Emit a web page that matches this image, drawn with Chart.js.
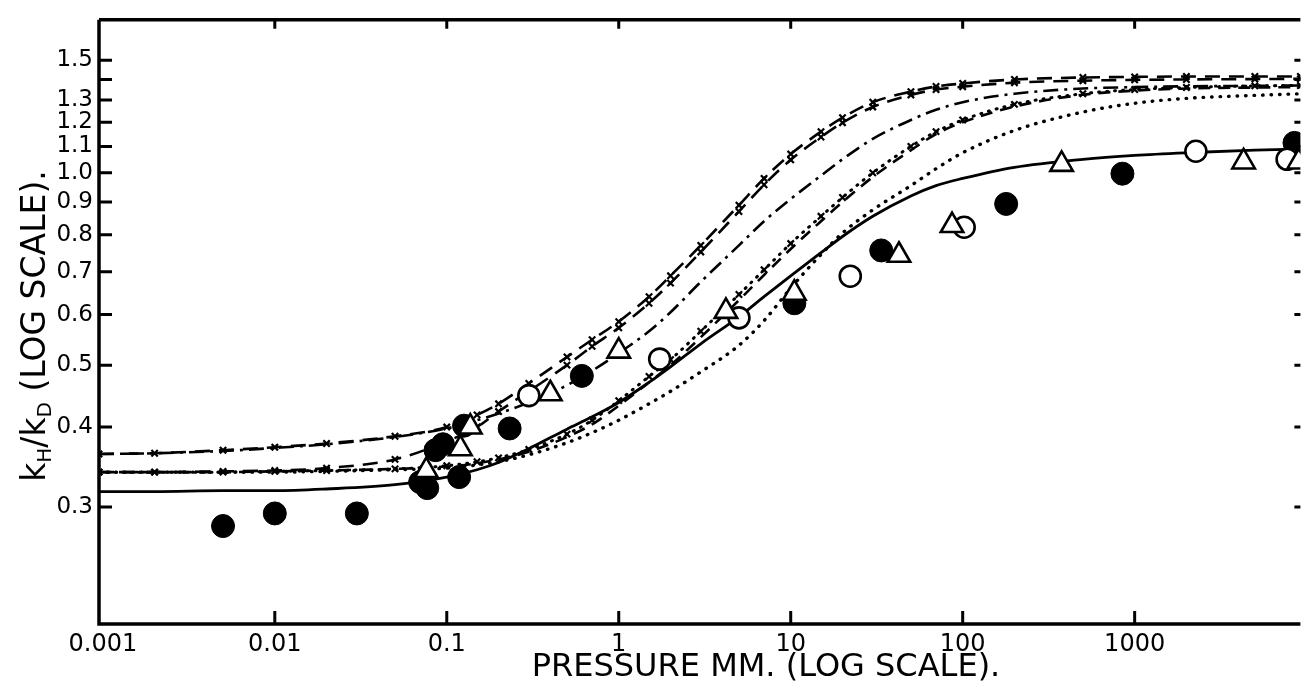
<!DOCTYPE html>
<html><head><meta charset="utf-8">
<script src="https://cdn.jsdelivr.net/npm/chart.js@4.4.1/dist/chart.umd.min.js"></script>
<style>html,body{margin:0;padding:0;background:#fff;}#wrap{width:1316px;height:686px;}</style>
</head><body><div id="wrap"><canvas id="c" width="1316" height="686"></canvas></div>
<script>
// ---- data ----
const XS = [0.00095, 0.002, 0.005, 0.01, 0.02, 0.05, 0.1, 0.15, 0.2, 0.3, 0.5, 0.7, 1, 1.5, 2, 3, 5, 7, 10, 15, 20, 30, 50, 70, 100, 200, 500, 1000, 2000, 5000, 9200];
const CURVE_U1 = [0.363, 0.364, 0.368, 0.372, 0.377, 0.387, 0.400, 0.418, 0.435, 0.468, 0.515, 0.548, 0.585, 0.640, 0.690, 0.770, 0.890, 0.980, 1.070, 1.160, 1.220, 1.290, 1.340, 1.365, 1.380, 1.400, 1.410, 1.413, 1.415, 1.415, 1.415];
const CURVE_U2 = [0.340, 0.340, 0.341, 0.342, 0.345, 0.356, 0.380, 0.400, 0.423, 0.455, 0.500, 0.535, 0.572, 0.625, 0.672, 0.752, 0.870, 0.958, 1.048, 1.138, 1.198, 1.268, 1.324, 1.350, 1.364, 1.384, 1.394, 1.398, 1.400, 1.402, 1.403];
const CURVE_M = [0.363, 0.364, 0.367, 0.371, 0.376, 0.386, 0.398, 0.410, 0.420, 0.437, 0.465, 0.490, 0.522, 0.565, 0.605, 0.675, 0.770, 0.840, 0.910, 0.990, 1.050, 1.130, 1.210, 1.255, 1.290, 1.330, 1.355, 1.362, 1.366, 1.368, 1.370];
const CURVE_LX = [0.340, 0.340, 0.340, 0.341, 0.342, 0.344, 0.348, 0.353, 0.358, 0.369, 0.390, 0.410, 0.440, 0.480, 0.510, 0.565, 0.645, 0.705, 0.775, 0.855, 0.915, 1.000, 1.100, 1.160, 1.210, 1.280, 1.330, 1.350, 1.360, 1.368, 1.370];
const CURVE_LD = [0.340, 0.340, 0.340, 0.341, 0.342, 0.344, 0.347, 0.351, 0.356, 0.366, 0.386, 0.404, 0.432, 0.470, 0.500, 0.553, 0.632, 0.692, 0.760, 0.840, 0.900, 0.985, 1.085, 1.150, 1.200, 1.270, 1.325, 1.345, 1.355, 1.360, 1.362];
const CURVE_DOT = [0.340, 0.340, 0.340, 0.340, 0.341, 0.343, 0.345, 0.349, 0.353, 0.362, 0.378, 0.392, 0.410, 0.435, 0.455, 0.488, 0.537, 0.587, 0.660, 0.745, 0.805, 0.875, 0.955, 1.015, 1.075, 1.165, 1.245, 1.285, 1.308, 1.322, 1.330];
const CURVE_SOLID = [0.317, 0.317, 0.318, 0.318, 0.320, 0.325, 0.334, 0.343, 0.352, 0.370, 0.397, 0.415, 0.437, 0.470, 0.497, 0.540, 0.595, 0.640, 0.690, 0.750, 0.795, 0.855, 0.920, 0.955, 0.980, 1.020, 1.050, 1.065, 1.075, 1.085, 1.090];

const FILLED_X = [0.005, 0.01, 0.03, 0.070, 0.077, 0.086, 0.095, 0.118, 0.126, 0.232, 0.61, 10.5, 33.6, 179, 849, 8500];
const FILLED_Y = [0.280, 0.293, 0.293, 0.328, 0.321, 0.368, 0.376, 0.334, 0.402, 0.398, 0.481, 0.625, 0.756, 0.894, 0.997, 1.114];
const OPEN_X = [0.30, 1.73, 5.0, 22.2, 102, 2270, 7700];
const OPEN_Y = [0.448, 0.511, 0.593, 0.689, 0.822, 1.081, 1.050];
const TRI_X = [0.076, 0.12, 0.137, 0.40, 1.0, 4.2, 10.5, 42.6, 86.7, 376, 4300, 9000];
const TRI_Y = [0.342, 0.370, 0.400, 0.451, 0.526, 0.607, 0.648, 0.743, 0.827, 1.031, 1.040, 1.040];

const X_TICKS = [0.001, 0.01, 0.1, 1, 10, 100, 1000];
const X_LABELS = ['0.001', '0.01', '0.1', '1', '10', '100', '1000'];
const Y_TICKS = [0.3, 0.4, 0.5, 0.6, 0.7, 0.8, 0.9, 1.0, 1.1, 1.2, 1.3, 1.4, 1.5];
const Y_LABELS = ['0.3', '0.4', '0.5', '0.6', '0.7', '0.8', '0.9', '1.0', '1.1', '1.2', '1.3', '', '1.5'];
const X_TITLE = 'PRESSURE MM. (LOG SCALE).';
const Y_TITLE_PARTS = [['k', 0], ['H', 1], ['/', 0], ['k', 0], ['D', 1], [' (LOG SCALE).', 0]];

// ---- build ----
const pts = (xs, ys) => xs.map((x, i) => ({x: x, y: ys[i]}));
const FONT = '"DejaVu Sans", sans-serif';

function curve(label, ys, dash, cross, width) {
  return {
    label: label, data: pts(XS, ys), showLine: true, order: 5,
    borderColor: '#000', borderWidth: width || 2.6, borderDash: dash,
    borderCapStyle: dash.length && dash[0] < 3 ? 'round' : 'butt',
    cubicInterpolationMode: 'monotone', fill: false,
    pointStyle: 'crossRot', pointRadius: cross ? 4.5 : 0, pointBorderWidth: 2.2,
    pointBorderColor: '#000', pointBackgroundColor: '#000', pointHoverRadius: 0
  };
}

const datasets = [
  {label: 'open', data: pts(OPEN_X, OPEN_Y), order: 1, pointStyle: 'circle', pointRadius: 10.5,
   pointBorderWidth: 2.6, pointBorderColor: '#000', pointBackgroundColor: '#fff'},
  {label: 'triangles', data: pts(TRI_X, TRI_Y), order: 0, pointStyle: 'triangle', pointRadius: 13,
   pointBorderWidth: 2.6, pointBorderColor: '#000', pointBackgroundColor: '#fff'},
  {label: 'filled', data: pts(FILLED_X, FILLED_Y), order: 2, pointStyle: 'circle', pointRadius: 11.5,
   pointBorderWidth: 1, pointBorderColor: '#000', pointBackgroundColor: '#000'},
  curve('U1', CURVE_U1, [15, 9], true),
  curve('U2', CURVE_U2, [15, 9], true),
  curve('M', CURVE_M, [15, 6, 3, 6], false),
  curve('LX', CURVE_LX, [1, 7], true, 3),
  curve('LD', CURVE_LD, [12, 8], false),
  curve('DOT', CURVE_DOT, [0.5, 8], false, 3.4),
  curve('SOLID', CURVE_SOLID, [], false, 2.8)
];

const framePlugin = {
  id: 'frame',
  afterDraw(chart) {
    const ctx = chart.ctx, a = chart.chartArea, xs = chart.scales.x, ys = chart.scales.y;
    ctx.save();
    ctx.strokeStyle = '#000';
    ctx.lineWidth = 3.5;
    ctx.beginPath();
    ctx.moveTo(a.left, a.top); ctx.lineTo(a.left, a.bottom); ctx.lineTo(a.right, a.bottom);
    ctx.moveTo(a.left, a.top); ctx.lineTo(a.right, a.top);
    ctx.stroke();
    ctx.lineWidth = 3;
    ctx.beginPath();
    X_TICKS.forEach(v => {
      const px = xs.getPixelForValue(v);
      if (px > a.left + 4) {
        ctx.moveTo(px, a.bottom); ctx.lineTo(px, a.bottom - 13);
        ctx.moveTo(px, a.top); ctx.lineTo(px, a.top + 9);
      }
    });
    Y_TICKS.forEach(v => {
      const py = ys.getPixelForValue(v);
      ctx.moveTo(a.left, py); ctx.lineTo(a.left + 13, py);
      ctx.moveTo(a.right, py); ctx.lineTo(a.right - 6, py);
    });
    ctx.stroke();
    // axis titles
    ctx.fillStyle = '#000';
    ctx.textBaseline = 'alphabetic';
    ctx.font = '32px ' + FONT;
    ctx.textAlign = 'center';
    ctx.fillText(X_TITLE, 766, 676);
    // y title with subscripts
    ctx.translate(45, 326);
    ctx.rotate(-Math.PI / 2);
    const big = '33px ' + FONT, small = '20px ' + FONT;
    let total = 0;
    Y_TITLE_PARTS.forEach(p => { ctx.font = p[1] ? small : big; total += ctx.measureText(p[0]).width; });
    let x = -total / 2;
    ctx.textAlign = 'left';
    Y_TITLE_PARTS.forEach(p => {
      ctx.font = p[1] ? small : big;
      ctx.fillText(p[0], x, p[1] ? 6 : 0);
      x += ctx.measureText(p[0]).width;
    });
    ctx.restore();
  }
};

new Chart(document.getElementById('c'), {
  type: 'scatter',
  data: {datasets: datasets},
  options: {
    responsive: false, animation: false, devicePixelRatio: 1,
    layout: {padding: {top: 14, right: 0, left: 0, bottom: 0}},
    plugins: {legend: {display: false}, tooltip: {enabled: false}},
    scales: {
      x: {
        type: 'logarithmic', min: 0.00095, max: 9200,
        grid: {display: false, drawTicks: false}, border: {display: false},
        afterFit: s => { s.height = 62; },
        afterBuildTicks: s => { s.ticks = X_TICKS.map(v => ({value: v})); },
        ticks: {padding: 6, color: '#000', font: {family: FONT, size: 24}, maxRotation: 0, autoSkip: false,
          callback: (v, i) => X_LABELS[X_TICKS.indexOf(v)] ?? ''}
      },
      y: {
        type: 'logarithmic', min: 0.1967, max: 1.736,
        grid: {display: false, drawTicks: false}, border: {display: false},
        afterFit: s => { s.width = 99; },
        afterBuildTicks: s => { s.ticks = Y_TICKS.map(v => ({value: v})); },
        ticks: {padding: 6, color: '#000', font: {family: FONT, size: 23}, autoSkip: false,
          callback: (v) => { const i = Y_TICKS.findIndex(t => Math.abs(t - v) < 1e-9); return i >= 0 ? Y_LABELS[i] : ''; }}
      }
    }
  },
  plugins: [framePlugin]
});
</script></body></html>
